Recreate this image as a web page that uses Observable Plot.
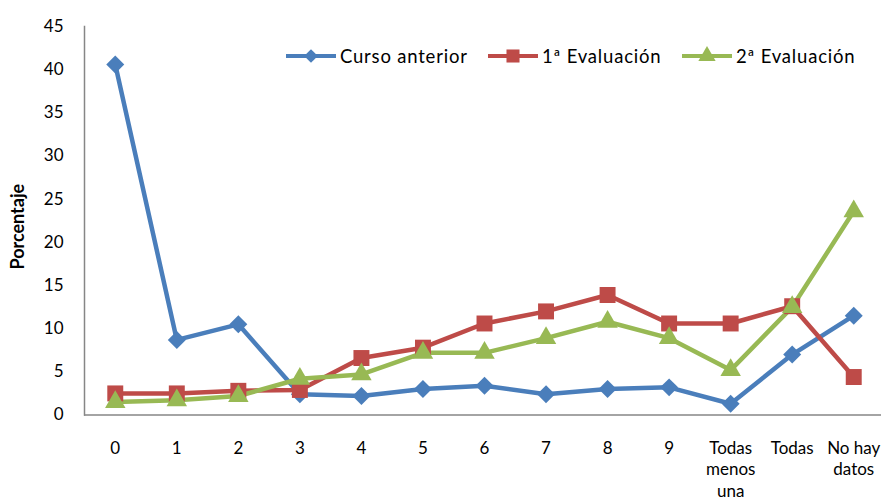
<!DOCTYPE html>
<html>
<head>
<meta charset="utf-8">
<script src="https://cdn.jsdelivr.net/npm/d3@7"></script>
<script src="https://cdn.jsdelivr.net/npm/@observablehq/plot@0.6"></script>
<style>
  body { margin: 0; background: #fff; }
  #wrap { position: relative; width: 881px; height: 504px; overflow: hidden; font-family: Lato, "Liberation Sans", sans-serif; }
  #legend { position: absolute; top: 45px; left: 0; width: 881px; height: 22px; font-size: 18.5px; letter-spacing: 0.8px; color: #000; white-space: nowrap; }
  .item { position: absolute; top: 0; display: flex; align-items: center; gap: 4px; }
  .item svg { display: block; }
</style>
</head>
<body>
<div id="wrap"><div id="chart"></div><div id="legend"></div></div>
<script>
const categories = ["0", "1", "2", "3", "4", "5", "6", "7", "8", "9", "Todas menos una", "Todas", "No hay datos"];
const tickLabels = ["0", "1", "2", "3", "4", "5", "6", "7", "8", "9", "Todas\nmenos\nuna", "Todas", "No hay\ndatos"];
const seriesNames = ["Curso anterior", "1ª Evaluación", "2ª Evaluación"];
const cursoAnterior = [40.6, 8.7, 10.5, 2.4, 2.2, 3.0, 3.4, 2.4, 3.0, 3.2, 1.3, 7.0, 11.5];
const evaluacion1 = [2.5, 2.5, 2.8, 2.9, 6.6, 7.8, 10.6, 12.0, 13.9, 10.6, 10.6, 12.6, 4.4];
const evaluacion2 = [1.5, 1.7, 2.2, 4.2, 4.7, 7.2, 7.2, 8.9, 10.8, 8.9, 5.2, 12.5, 23.6];
const colors = ["#4A7EBB", "#BE4B48", "#98B954"];
const symbols = ["diamond2", "square", "triangle"];
const yTicks = [0, 5, 10, 15, 20, 25, 30, 35, 40, 45];

const seriesValues = [cursoAnterior, evaluacion1, evaluacion2];
const data = seriesNames.flatMap((s, si) =>
  categories.map((c, i) => ({ serie: s, cat: c, value: seriesValues[si][i] })));

const labelOf = new Map(categories.map((c, i) => [c, tickLabels[i]]));
const markerR = [8.1, 9.0, 7.6];

const chart = Plot.plot({
  width: 881,
  height: 504,
  marginLeft: 84,
  marginRight: -3,
  marginTop: 26,
  marginBottom: 89.5,
  style: { fontFamily: "Lato, 'Liberation Sans', sans-serif", fontSize: "17px", color: "#000", background: "#fff" },
  x: { type: "point", domain: categories, padding: 0.5, round: false },
  y: { domain: [0, 45] },
  color: { domain: seriesNames, range: colors },
  symbol: { domain: seriesNames, range: symbols },
  marks: [
    Plot.ruleY([0], { stroke: "#868686", strokeWidth: 1.5 }),
    Plot.frame({ anchor: "left", stroke: "#868686", strokeWidth: 1.5 }),
    Plot.axisY({ ticks: yTicks, tickSize: 0, tickPadding: 21, label: null, fill: "#000" }),
    Plot.axisX({ tickSize: 0, tickPadding: 24, label: null, lineHeight: 1.25, fill: "#000", tickFormat: d => labelOf.get(d) }),
    Plot.text(["Porcentaje"], { frameAnchor: "left", textAnchor: "middle", rotate: -90, dx: -66, dy: 6, fontWeight: "bold", fontSize: 18, fill: "#000" }),
    Plot.line(data, { x: "cat", y: "value", z: "serie", stroke: "serie", strokeWidth: 4.5 }),
    ...seriesNames.map((s, i) =>
      Plot.dot(data, { filter: d => d.serie === s, x: "cat", y: "value", symbol: "serie", fill: "serie", stroke: "none", r: markerR[i] }))
  ]
});
document.getElementById("chart").append(chart);

// Legend
const legendLeft = [286, 488, 682];
const legend = d3.select("#legend");
seriesNames.forEach((s, i) => {
  const item = legend.append("div").attr("class", "item").style("left", legendLeft[i] + "px");
  const svg = item.append("svg").attr("width", 50).attr("height", 22);
  svg.append("line").attr("x1", 0).attr("x2", 50).attr("y1", 11).attr("y2", 11)
    .attr("stroke", colors[i]).attr("stroke-width", 4);
  const sym = [d3.symbolDiamond2, d3.symbolSquare, d3.symbolTriangle][i];
  const size = [120, 170, 130][i];
  svg.append("path").attr("d", d3.symbol(sym, size)()).attr("transform", "translate(25,11)").attr("fill", colors[i]);
  item.append("span").text(s);
});
</script>
</body>
</html>
